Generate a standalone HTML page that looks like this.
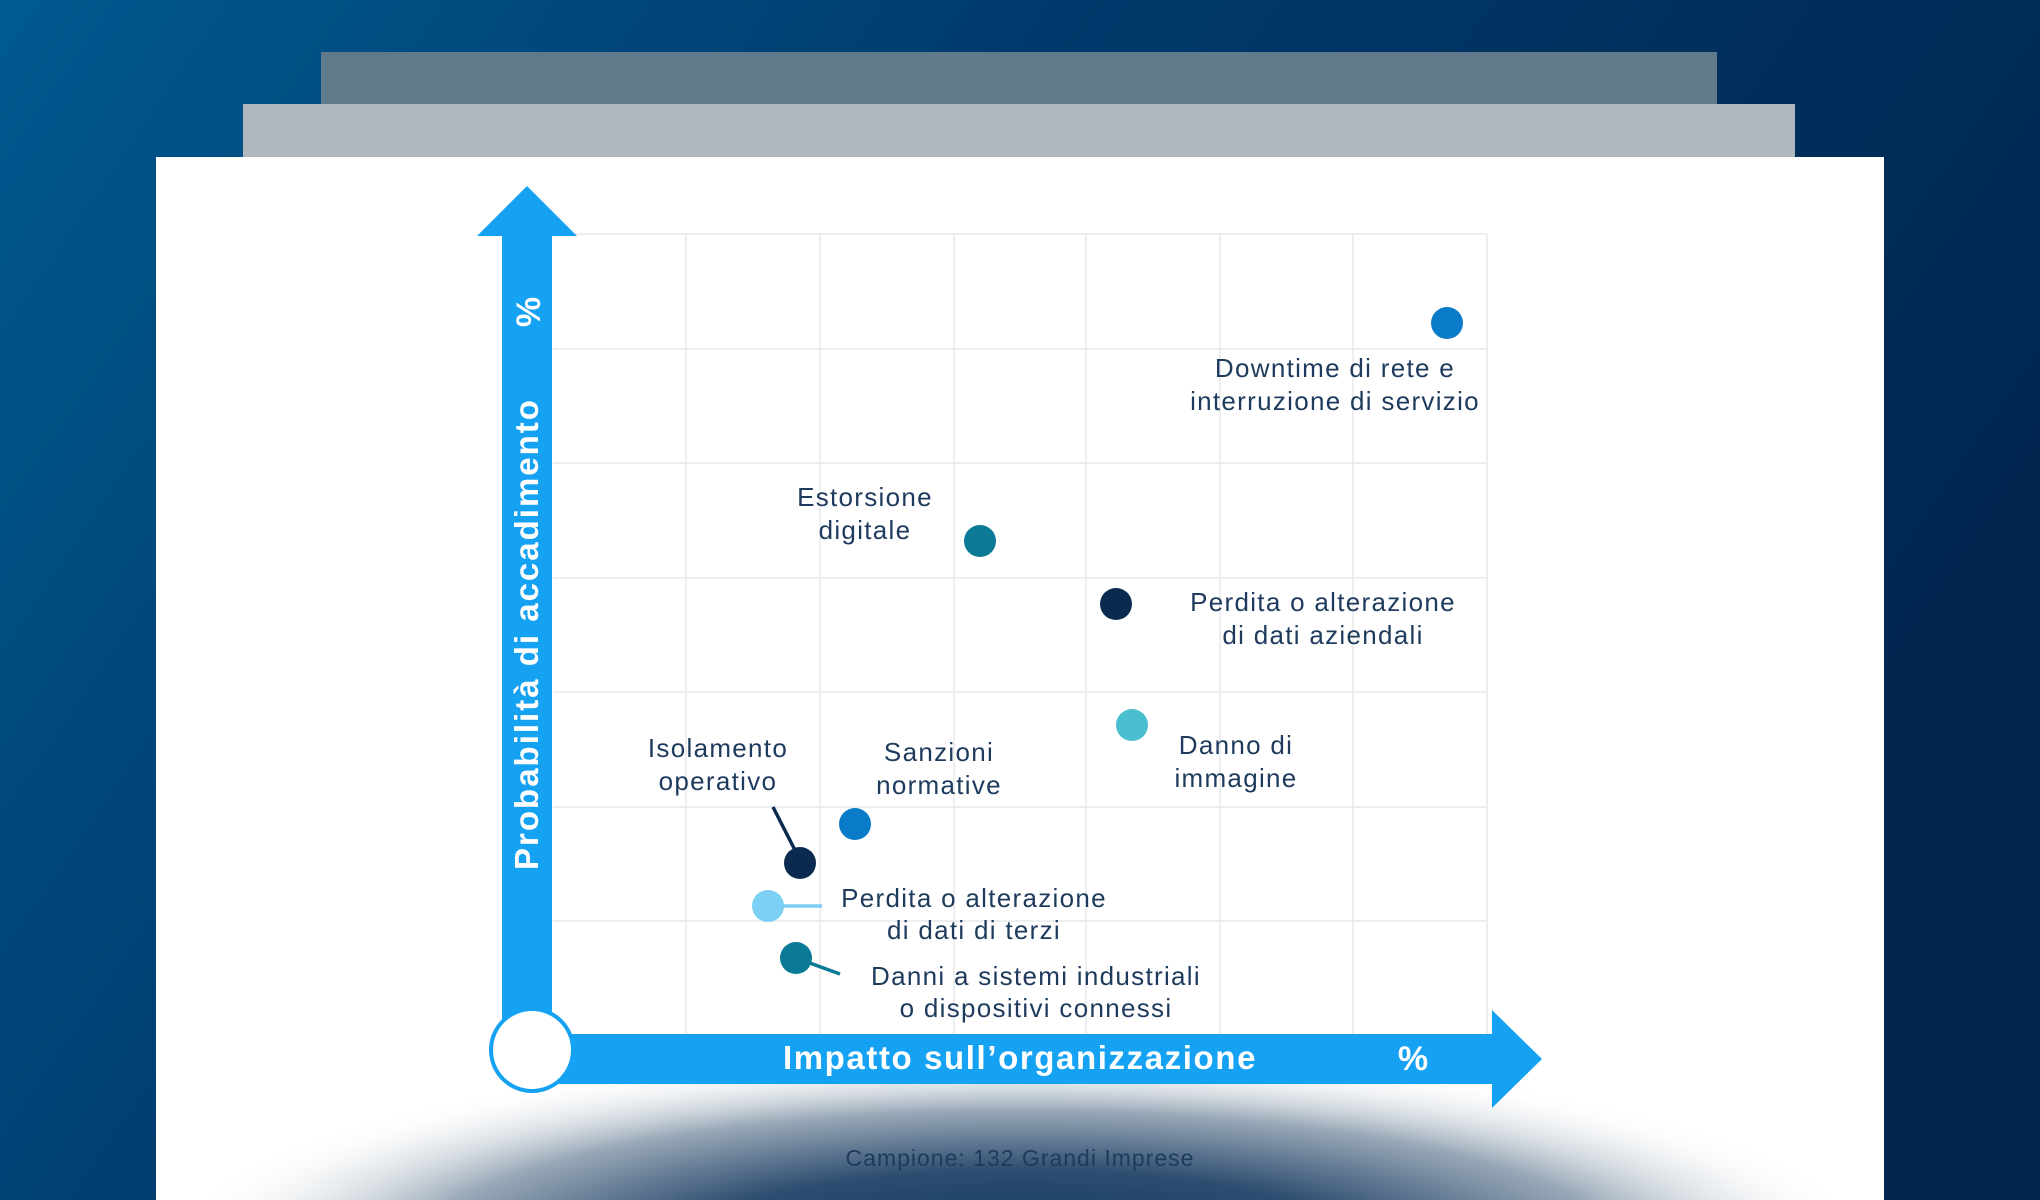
<!DOCTYPE html>
<html><head><meta charset="utf-8"><style>
html,body{margin:0;padding:0;width:2040px;height:1200px;overflow:hidden}
svg{display:block}
text{font-family:"Liberation Sans",sans-serif}
</style></head><body>
<svg width="2040" height="1200" viewBox="0 0 2040 1200" xmlns="http://www.w3.org/2000/svg">
<defs>
<linearGradient id="bg" x1="0" y1="0" x2="1" y2="0.4">
<stop offset="0" stop-color="#005a90"/><stop offset="0.45" stop-color="#003a6c"/><stop offset="1" stop-color="#002650"/>
</linearGradient>
<radialGradient id="sh" cx="0.5" cy="0.5" r="0.5">
<stop offset="0" stop-color="#0b3560"/><stop offset="0.4" stop-color="#2e4d70"/><stop offset="0.7" stop-color="#9aa9b8"/><stop offset="1" stop-color="#ffffff" stop-opacity="0"/>
</radialGradient>
<clipPath id="card"><rect x="156" y="157" width="1728" height="1043"/></clipPath>
</defs>
<rect width="2040" height="1200" fill="url(#bg)"/>
<rect x="321" y="52" width="1396" height="106" fill="#5f7a8a"/>
<rect x="243" y="104" width="1552" height="54" fill="#b0b8bf"/>
<rect x="156" y="157" width="1728" height="1043" fill="#ffffff"/>
<ellipse cx="1020" cy="1250" rx="860" ry="200" fill="url(#sh)" clip-path="url(#card)"/>
<g stroke="#e6e9ec" stroke-width="1.5">
<line x1="686" y1="234" x2="686" y2="1034"/><line x1="820" y1="234" x2="820" y2="1034"/>
<line x1="954" y1="234" x2="954" y2="1034"/><line x1="1086" y1="234" x2="1086" y2="1034"/>
<line x1="1220" y1="234" x2="1220" y2="1034"/><line x1="1353" y1="234" x2="1353" y2="1034"/>
<line x1="1487" y1="234" x2="1487" y2="1034"/>
<line x1="553" y1="234" x2="1487" y2="234"/><line x1="553" y1="349" x2="1487" y2="349"/>
<line x1="553" y1="463" x2="1487" y2="463"/><line x1="553" y1="578" x2="1487" y2="578"/>
<line x1="553" y1="692" x2="1487" y2="692"/><line x1="553" y1="807" x2="1487" y2="807"/>
<line x1="553" y1="921" x2="1487" y2="921"/>
</g>
<rect x="502" y="234" width="50" height="800" fill="#16a2f2"/>
<polygon points="527,186 577,236 477,236" fill="#16a2f2"/>
<rect x="533" y="1034" width="960" height="50" fill="#16a2f2"/>
<polygon points="1492,1010 1542,1059 1492,1108" fill="#16a2f2"/>
<circle cx="532" cy="1050" r="41" fill="#fff" stroke="#16a2f2" stroke-width="4"/>
<text x="1020" y="1069" font-size="33" font-weight="bold" fill="#fff" text-anchor="middle" letter-spacing="1.6">Impatto sull’organizzazione</text>
<text x="1413" y="1070" font-size="34" font-weight="bold" fill="#fff" text-anchor="middle">%</text>
<text transform="translate(538,634) rotate(-90)" font-size="33" font-weight="bold" fill="#fff" text-anchor="middle" letter-spacing="2">Probabilità  di accadimento</text>
<text transform="translate(540,312) rotate(-90)" font-size="34" font-weight="bold" fill="#fff" text-anchor="middle">%</text>
<g stroke-width="3.5">
<line x1="773" y1="807" x2="800" y2="860" stroke="#0b2a50"/>
<line x1="768" y1="906" x2="822" y2="906" stroke="#7ccff5"/>
<line x1="796" y1="958" x2="840" y2="974" stroke="#0a7a96"/>
</g>
<circle cx="1447" cy="323" r="16" fill="#0a7bc8"/>
<circle cx="980" cy="541" r="16" fill="#0a7a96"/>
<circle cx="1116" cy="604" r="16" fill="#0b2a50"/>
<circle cx="1132" cy="725" r="16" fill="#4bbfcf"/>
<circle cx="855" cy="824" r="16" fill="#0a7bc8"/>
<circle cx="800" cy="863" r="16" fill="#0b2a50"/>
<circle cx="768" cy="906" r="16" fill="#7ccff5"/>
<circle cx="796" cy="958" r="16" fill="#0a7a96"/>
<g font-size="26" fill="#1e3a5c" text-anchor="middle" letter-spacing="1.3">
<text x="1335" y="377">Downtime di rete e</text><text x="1335" y="410">interruzione di servizio</text>
<text x="865" y="506">Estorsione</text><text x="865" y="539">digitale</text>
<text x="1323" y="611">Perdita o alterazione</text><text x="1323" y="644">di dati aziendali</text>
<text x="1236" y="754">Danno di</text><text x="1236" y="787">immagine</text>
<text x="718" y="757">Isolamento</text><text x="718" y="790">operativo</text>
<text x="939" y="761">Sanzioni</text><text x="939" y="794">normative</text>
<text x="974" y="907">Perdita o alterazione</text><text x="974" y="939">di dati di terzi</text>
<text x="1036" y="985">Danni a sistemi industriali</text><text x="1036" y="1017">o dispositivi connessi</text>
</g>
<text x="1020" y="1166" font-size="23" fill="#1e3a5c" text-anchor="middle" letter-spacing="1">Campione: 132 Grandi Imprese</text>
</svg>
</body></html>
